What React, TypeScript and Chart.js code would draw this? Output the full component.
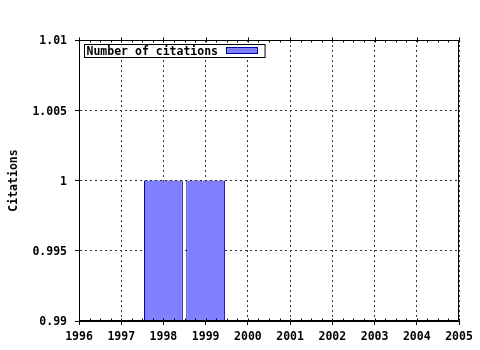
import React, { useEffect, useRef } from "react";
import { Chart, registerables } from "chart.js";

Chart.register(...registerables);

// ---- data ----
const years = [1998, 1999];
const citations = [1, 1];
const xTicks = [1996, 1997, 1998, 1999, 2000, 2001, 2002, 2003, 2004, 2005];
const yTicks = [0.99, 0.995, 1, 1.005, 1.01];
const yTickLabels = ["0.99", "0.995", "1", "1.005", "1.01"];
const seriesLabel = "Number of citations";
const yTitle = "Citations";

const FONT_FAMILY = '"DejaVu Sans Mono", "Liberation Mono", monospace';
const FONT_SIZE = 11.5;
const BAR_FILL = "#8080ff";
const BAR_BORDER = "#0000a0";
const GRID_COLOR = "#333";

const framePlugin = {
  id: "frame",
  afterDatasetsDraw(chart: any) {
    const { ctx, chartArea: a } = chart;
    const xs = chart.scales.x;
    ctx.save();
    ctx.strokeStyle = "#000";
    ctx.lineWidth = 1;
    ctx.setLineDash([]);
    // box
    const L = Math.round(a.left) + 0.5;
    const R = Math.round(a.right) - 0.5;
    const T = Math.round(a.top) + 0.5;
    const B = Math.round(a.bottom) - 0.5;
    ctx.beginPath();
    ctx.rect(L, T, R - L, B - T);
    ctx.stroke();
    // x minor ticks (inside) and top major ticks (outside)
    ctx.beginPath();
    for (let v = xTicks[0]; v <= xTicks[xTicks.length - 1] + 1e-9; v += 0.25) {
      const px = Math.round(xs.getPixelForValue(v)) + 0.5;
      ctx.moveTo(px, B);
      ctx.lineTo(px, B - 2);
      ctx.moveTo(px, T);
      ctx.lineTo(px, T + 2);
    }
    for (const v of xTicks) {
      const px = Math.round(xs.getPixelForValue(v)) + 0.5;
      ctx.moveTo(px, T);
      ctx.lineTo(px, T - 3);
    }
    ctx.stroke();

    // legend
    ctx.font = `bold ${FONT_SIZE}px ${FONT_FAMILY}`;
    const tw = ctx.measureText(seriesLabel).width;
    const bx = Math.round(a.left) + 5.5;
    const by = Math.round(a.top) + 4.5;
    const bw = 2 + tw + 8 + 31 + 8;
    const bh = 13;
    ctx.fillStyle = "#fff";
    ctx.fillRect(bx, by, bw, bh);
    ctx.strokeRect(bx, by, bw, bh);
    ctx.fillStyle = "#000";
    ctx.textBaseline = "middle";
    ctx.textAlign = "left";
    ctx.fillText(seriesLabel, bx + 2, by + bh / 2 + 1);
    const sx = Math.round(bx + 2 + tw + 8) + 0.5;
    ctx.fillStyle = BAR_FILL;
    ctx.fillRect(sx, by + 3, 31, 6);
    ctx.strokeStyle = BAR_BORDER;
    ctx.strokeRect(sx, by + 3, 31, 6);
    ctx.restore();
  },
};

export default function App() {
  const ref = useRef<HTMLCanvasElement>(null);

  useEffect(() => {
    document.body.style.margin = "0";
    const canvas = ref.current!;
    const font = { family: FONT_FAMILY, size: FONT_SIZE, weight: "bold" as const };
    const chart = new Chart(canvas, {
      type: "bar",
      data: {
        datasets: [
          {
            label: seriesLabel,
            data: years.map((x, i) => ({ x, y: citations[i] })),
            backgroundColor: BAR_FILL,
            borderColor: BAR_BORDER,
            borderWidth: 1,
            borderSkipped: false,
            barPercentage: 0.92,
            categoryPercentage: 1,
          },
        ],
      },
      options: {
        responsive: false,
        animation: false,
        devicePixelRatio: 1,
        layout: { padding: { top: 40, right: 21, left: 0, bottom: 0 } },
        plugins: { legend: { display: false }, tooltip: { enabled: false } },
        scales: {
          x: {
            type: "linear",
            min: xTicks[0],
            max: xTicks[xTicks.length - 1],
            offset: false,
            afterBuildTicks: (s: any) => {
              s.ticks = xTicks.map((v) => ({ value: v }));
            },
            afterFit: (s: any) => {
              s.height = 29;
            },
            ticks: {
              color: "#000",
              font,
              padding: 5,
              maxRotation: 0,
              autoSkip: false,
              callback: (v: any) => String(v),
            },
            grid: {
              offset: false,
              color: GRID_COLOR,
              lineWidth: 1,
              drawTicks: true,
              tickLength: 4,
              tickColor: "#000",
              tickBorderDash: [],
            },
            border: { display: true, color: "#000", dash: [2, 3] },
          },
          y: {
            type: "linear",
            min: yTicks[0],
            max: yTicks[yTicks.length - 1],
            afterBuildTicks: (s: any) => {
              s.ticks = yTicks.map((v) => ({ value: v }));
            },
            afterFit: (s: any) => {
              s.width = 79;
            },
            ticks: {
              color: "#000",
              font,
              padding: 8,
              labelOffset: 1.5,
              callback: (_v: any, i: number) => yTickLabels[i],
            },
            grid: {
              color: GRID_COLOR,
              lineWidth: 1,
              drawTicks: true,
              tickLength: 4,
              tickColor: "#000",
              tickBorderDash: [],
            },
            border: { display: true, color: "#000", dash: [2, 3] },
            title: {
              display: true,
              text: yTitle,
              color: "#000",
              font,
              padding: { top: 7, bottom: 0 },
            },
          },
        },
      },
      plugins: [framePlugin],
    });
    return () => chart.destroy();
  }, []);

  return (
    <div style={{ position: "fixed", left: 0, top: 0, width: 480, height: 350, background: "#fff" }}>
      <canvas ref={ref} width={480} height={350} style={{ width: 480, height: 350, display: "block" }} />
    </div>
  );
}
